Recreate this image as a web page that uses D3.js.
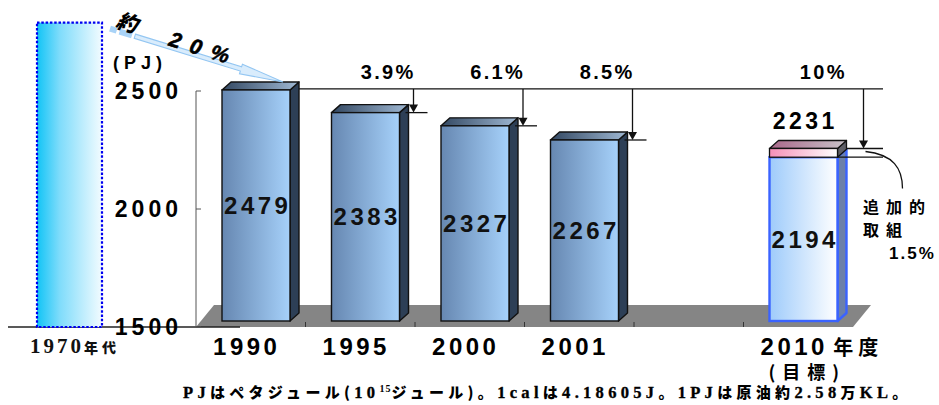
<!DOCTYPE html>
<html><head><meta charset="utf-8">
<script src="https://cdn.jsdelivr.net/npm/d3@7"></script>
<style>html,body{margin:0;padding:0;background:#fff;} svg{display:block;}</style>
</head><body>
<script>
// Energy consumption (PJ) by fiscal year, with the reduction targets against 1990
const slots = ["1990", "1995", "2000", "2001", "", "2010"];
const years = ["1990", "1995", "2000", "2001", "2010"];
const values = [2479, 2383, 2327, 2267, 2194];
const target2010 = 2231;
const reductionYears = ["1995", "2000", "2001", "2010"];
const reductionLabels = ["3.9%", "6.1%", "8.5%", "10%"];
const extraLabel = "1.5%";
const extraNote = ["追加的", "取組"];
const eraLabels = ["1970年代"];
const eraValues = [2790];
const eraChange = ["約", "20%"];
const yTicks = [1500, 2000, 2500];
const unitLabel = "(PJ)";
const yearSuffix = "年度";
const targetNote = "(目標)";
const footnote = [
  ["PJ", "s"], ["はペタジュール(", "j"], ["10", "s"], ["15", "sup"], ["ジュール)。", "j"],
  ["1cal", "s"], ["は", "j"], ["4.18605J", "s"], ["。", "j"], ["1PJ", "s"],
  ["は原油約", "j"], ["2.58", "s"], ["万", "j"], ["KL", "s"], ["。", "j"]
];

const W = 939, H = 405;
const SANS = "'Liberation Sans', Arial, sans-serif";
const SERIF = "'Liberation Serif', 'Times New Roman', serif";
const CJK = "'Noto Sans CJK JP', sans-serif";

const svg = d3.select("body").append("svg").attr("width", W).attr("height", H);

const x = d3.scaleBand().domain(slots).range([196, 853]);
const y = d3.scaleLinear().domain([1500, 2500]).range([327, 91]);
const xEra = d3.scaleBand().domain(eraLabels).range([37, 102]);

const lift = 6;          // bars stand on the floor, slightly behind the front edge
const barInset = 26, barW = 68;
const dx = 9, dy = 8;    // bar depth
const floorDx = 18, floorDy = 22;
const rightEnd = 883;

// ---------- gradients ----------
const defs = svg.append("defs");
function hGrad(id, stops) {
  const g = defs.append("linearGradient").attr("id", id)
    .attr("x1", 0).attr("y1", 0).attr("x2", 1).attr("y2", 0);
  stops.forEach(([o, c]) => g.append("stop").attr("offset", o).attr("stop-color", c));
}
hGrad("front", [[0, "#6687b1"], [1, "#a6d1fa"]]);
hGrad("topf", [[0, "#334862"], [1, "#a0b9d4"]]);
hGrad("era", [[0, "#12c4f6"], [0.35, "#7fdcfb"], [1, "#f2fbff"]]);
hGrad("target", [[0, "#9ecbfb"], [1, "#ffffff"]]);
hGrad("pink", [[0, "#f58fb8"], [1, "#ffffff"]]);
hGrad("pinkTop", [[0, "#a9688a"], [1, "#c9c3c9"]]);

// ---------- floor ----------
const [fx0, fx1] = x.range();
const fy = y(1500);
svg.append("polygon")
  .attr("points", [[fx0, fy], [fx0 + floorDx, fy - floorDy], [fx1 + floorDx, fy - floorDy], [fx1, fy]].join(" "))
  .attr("fill", "#858585");

// floor tick marks at category boundaries
svg.append("g").selectAll("line").data(d3.range(1, slots.length)).join("line")
  .attr("x1", i => fx0 + i * x.step()).attr("x2", i => fx0 + i * x.step())
  .attr("y1", fy - 5).attr("y2", fy)
  .attr("stroke", "#333").attr("stroke-width", 1);

// baseline under the 1970s bar
svg.append("line").attr("x1", 8).attr("x2", 240).attr("y1", fy).attr("y2", fy)
  .attr("stroke", "#222").attr("stroke-width", 1.5);

// ---------- y axis ----------
svg.append("line").attr("x1", fx0).attr("x2", fx0).attr("y1", y(2500)).attr("y2", y(1500))
  .attr("stroke", "#555").attr("stroke-width", 1);
svg.append("g").selectAll("line").data(yTicks).join("line")
  .attr("x1", fx0).attr("x2", fx0 + 5).attr("y1", d => y(d)).attr("y2", d => y(d))
  .attr("stroke", "#555");
svg.append("g").selectAll("text").data(yTicks).join("text")
  .attr("x", 182).attr("y", d => y(d)).attr("text-anchor", "end")
  .attr("dominant-baseline", "central")
  .attr("font-family", SANS).attr("font-weight", "bold").attr("font-size", 23)
  .attr("letter-spacing", 4).text(d => d);
svg.append("text").attr("x", 113).attr("y", 69)
  .attr("font-family", SANS).attr("font-weight", "bold").attr("font-size", 18)
  .attr("letter-spacing", 5).text(unitLabel);

// ---------- 1970s bar ----------
svg.append("g").selectAll("rect").data(eraValues).join("rect")
  .attr("x", (d, i) => xEra(eraLabels[i])).attr("width", xEra.bandwidth())
  .attr("y", d => y(d)).attr("height", d => y(1500) - y(d))
  .attr("fill", "url(#era)").attr("stroke", "#0000f0").attr("stroke-width", 2.2)
  .attr("stroke-dasharray", "2.5 1.8");
const eraText = svg.append("text").attr("x", 30).attr("y", 353)
  .attr("font-family", SERIF).attr("font-weight", "bold").attr("fill", "#111");
eraText.append("tspan").attr("font-size", 21).attr("letter-spacing", 3).text(eraLabels[0].slice(0, 4));
eraText.append("tspan").attr("font-family", CJK).attr("font-weight", "900").attr("font-size", 14)
  .attr("letter-spacing", 4).attr("dx", 0).text(eraLabels[0].slice(4));

// ---------- bars ----------
const bars = years.map((yr, i) => {
  const x0 = x(yr) + barInset;
  return { year: yr, value: values[i], x0, x1: x0 + barW, top: y(values[i]) - lift, bot: y(1500) - lift };
});

function box(g, x0, x1, top, bot, front, topFill, side, stroke, sw, withTop = true) {
  g.append("polygon")
    .attr("points", [[x1, top], [x1 + dx, top - dy], [x1 + dx, bot - dy], [x1, bot]].join(" "))
    .attr("fill", side).attr("stroke", stroke).attr("stroke-width", sw).attr("stroke-linejoin", "round");
  if (withTop) {
    g.append("polygon")
      .attr("points", [[x0, top], [x0 + dx, top - dy], [x1 + dx, top - dy], [x1, top]].join(" "))
      .attr("fill", topFill).attr("stroke", stroke).attr("stroke-width", sw).attr("stroke-linejoin", "round");
  }
  g.append("rect").attr("x", x0).attr("y", top).attr("width", x1 - x0).attr("height", bot - top)
    .attr("fill", front).attr("stroke", stroke).attr("stroke-width", sw);
}

const gBars = svg.append("g");
bars.forEach(b => {
  if (b.year === "2010") {
    const tTop = y(target2010) - lift;
    box(gBars, b.x0, b.x1, b.top, b.bot, "url(#target)", "none", "#6c80aa", "#3a63ff", 2.4, false);
    box(gBars, b.x0, b.x1, tTop, b.top, "url(#pink)", "url(#pinkTop)", "#5e5e66", "#111", 1.3);
  } else {
    box(gBars, b.x0, b.x1, b.top, b.bot, "url(#front)", "url(#topf)", "#2d3f56", "#111", 1.4);
  }
});

// value labels inside bars
svg.append("g").selectAll("text").data(bars).join("text")
  .attr("x", d => (d.x0 + d.x1) / 2 + 1.75).attr("y", d => (d.top + d.bot) / 2)
  .attr("text-anchor", "middle").attr("dominant-baseline", "central")
  .attr("font-family", SANS).attr("font-weight", "bold").attr("font-size", 24)
  .attr("letter-spacing", 3.5).attr("fill", "#111").text(d => d.value);

// 2010 target total above the bar
const b2010 = bars.find(b => b.year === "2010");
svg.append("text")
  .attr("x", (b2010.x0 + b2010.x1) / 2 + 1.75).attr("y", y(target2010) - lift - 27)
  .attr("text-anchor", "middle").attr("dominant-baseline", "central")
  .attr("font-family", SANS).attr("font-weight", "bold").attr("font-size", 23)
  .attr("letter-spacing", 3.5).text(target2010);

// ---------- reduction annotations ----------
const b1990 = bars[0];
const refY = b1990.top - 1;
const ann = svg.append("g").attr("stroke", "#111").attr("stroke-width", 1.3);
ann.append("line").attr("x1", b1990.x1 + dx).attr("x2", rightEnd).attr("y1", refY).attr("y2", refY);

reductionYears.forEach((yr, i) => {
  const b = bars.find(d => d.year === yr);
  const isTarget = yr === "2010";
  const level = isTarget ? y(target2010) - lift : b.top;
  const ax = b.x1 + (isTarget ? 26 : 14);
  ann.append("line").attr("x1", ax).attr("x2", ax).attr("y1", refY).attr("y2", level - 6);
  ann.append("polygon").attr("points", [[ax - 4.5, level - 8], [ax + 4.5, level - 8], [ax, level]].join(" "))
    .attr("fill", "#111").attr("stroke", "none");
  if (isTarget) {
    ann.append("line").attr("x1", b.x1 + 9).attr("x2", rightEnd).attr("y1", level).attr("y2", level);
    ann.append("line").attr("x1", b.x1).attr("x2", rightEnd).attr("y1", b.top).attr("y2", b.top);
  } else {
    ann.append("line").attr("x1", b.x1 + 6).attr("x2", b.x1 + 28).attr("y1", level).attr("y2", level);
  }
  svg.append("text")
    .attr("x", x(yr) + x.bandwidth() / 2 + (isTarget ? 25 : 28)).attr("y", 72)
    .attr("text-anchor", "middle").attr("dominant-baseline", "central")
    .attr("font-family", SANS).attr("font-weight", "bold").attr("font-size", 20)
    .attr("letter-spacing", 2.3).text(reductionLabels[i]);
});

// additional-measures callout
const tgtLevel = y(target2010) - lift;
const cx0 = b2010.x1 + 28;
svg.append("path")
  .attr("d", `M${cx0},${tgtLevel + 3} C${cx0 + 28},${tgtLevel + 6} ${cx0 + 37},${tgtLevel + 20} ${cx0 + 37},${tgtLevel + 40}`)
  .attr("fill", "none").attr("stroke", "#111").attr("stroke-width", 1.3);
svg.append("g").selectAll("text").data(extraNote).join("text")
  .attr("x", 863).attr("y", (d, i) => 213 + i * 23)
  .attr("font-family", CJK).attr("font-weight", "bold").attr("font-size", 16)
  .attr("letter-spacing", 7).text(d => d);
svg.append("text").attr("x", 889).attr("y", 259)
  .attr("font-family", SANS).attr("font-weight", "bold").attr("font-size", 17)
  .attr("letter-spacing", 2).text(extraLabel);

// ---------- 1970s → 1990 change arrow ----------
const ax0 = xEra(eraLabels[0]) + xEra.bandwidth() + 8, ay0 = y(eraValues[0]) + 6;
const tipX = b1990.x1 - 7, tipY = b1990.top - dy;
const len = Math.hypot(tipX - ax0, tipY - ay0);
const ang = Math.atan2(tipY - ay0, tipX - ax0) * 180 / Math.PI;
const ga = svg.append("g").attr("transform", `translate(${ax0},${ay0}) rotate(${ang})`);
const headL = 44, sh = 2.2, hh = 5;
[[0, 7], [10, 23]].forEach(([s, e]) => {
  ga.append("rect").attr("x", s).attr("y", -3).attr("width", e - s).attr("height", 6)
    .attr("fill", "#a9d3f7");
});
ga.append("polygon")
  .attr("points", [[26, -sh], [len - headL, -sh], [len - headL, -hh], [len, 0], [len - headL, hh], [len - headL, sh], [26, sh]].join(" "))
  .attr("fill", "#d9ecfc").attr("stroke", "#93c6f2").attr("stroke-width", 1.1);
ga.append("text").attr("x", 4).attr("y", -3)
  .attr("font-family", CJK).attr("font-weight", "900").attr("font-style", "italic")
  .attr("font-size", 21).text(eraChange[0]);
ga.append("text").attr("x", 60).attr("y", -1)
  .attr("font-family", SANS).attr("font-weight", "bold").attr("font-style", "italic")
  .attr("font-size", 21).attr("letter-spacing", 10).attr("stroke", "#000").attr("stroke-width", 0.6)
  .text(eraChange[1]);

// ---------- category labels ----------
svg.append("g").selectAll("text").data(years).join("text")
  .attr("x", d => x(d) + x.bandwidth() / 2 - 4).attr("y", 355)
  .attr("text-anchor", "middle")
  .attr("font-family", SANS).attr("font-weight", "bold").attr("font-size", 24)
  .attr("letter-spacing", 3.5).text(d => d);
const c2010 = x("2010") + x.bandwidth() / 2;
svg.append("text").attr("x", c2010 + 35).attr("y", 355)
  .attr("font-family", CJK).attr("font-weight", "bold").attr("font-size", 20)
  .attr("letter-spacing", 5).text(yearSuffix);
svg.append("text").attr("x", c2010 + 9).attr("y", 379).attr("text-anchor", "middle")
  .attr("font-family", CJK).attr("font-weight", "bold").attr("font-size", 18)
  .attr("letter-spacing", 7).text(targetNote);

// ---------- footnote ----------
const fn = svg.append("text").attr("x", 183).attr("y", 398)
  .attr("font-weight", "bold").attr("letter-spacing", 4.3).attr("fill", "#000");
let raised = false;
footnote.forEach(([t, k]) => {
  const ts = fn.append("tspan").text(t);
  if (k === "s") ts.attr("font-family", SERIF).attr("font-size", 16.5).attr("stroke", "#000").attr("stroke-width", 0.35);
  else if (k === "j") ts.attr("font-family", CJK).attr("font-weight", "900").attr("font-size", 15);
  else ts.attr("font-family", SERIF).attr("font-size", 10).attr("letter-spacing", 1);
  if (k === "sup") { ts.attr("dy", -6); raised = true; }
  else if (raised) { ts.attr("dy", 6); raised = false; }
});
</script>
</body></html>
